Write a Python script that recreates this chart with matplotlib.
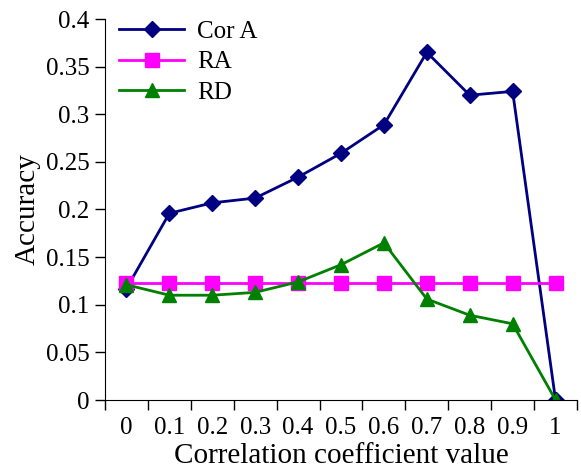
import matplotlib
matplotlib.use("Agg")
import matplotlib.pyplot as plt
import numpy as np

categories = ["0", "0.1", "0.2", "0.3", "0.4", "0.5", "0.6", "0.7", "0.8", "0.9", "1"]
cor_a = [0.117, 0.196, 0.207, 0.212, 0.234, 0.259, 0.289, 0.365, 0.320, 0.324, 0.0]
ra = [0.123] * 11
rd = [0.121, 0.110, 0.110, 0.113, 0.124, 0.142, 0.165, 0.106, 0.089, 0.080, 0.0]

plt.rcParams['font.family'] = ['Liberation Serif', 'DejaVu Serif']

fig = plt.figure(figsize=(5.81, 4.73), dpi=100)
ax = fig.add_axes([105 / 581, 73 / 473, 472 / 581, 381 / 473])

x = np.arange(len(categories))
ax.plot(x, cor_a, '-', color="#000080", marker='D', markersize=8.5, linewidth=2.0, label='Cor A')
ax.plot(x, ra, '-', color="#FF00FF", marker='s', markersize=9.5, linewidth=2.0, label='RA')
ax.plot(x, rd, '-', color="#008000", marker='^', markersize=10.5, linewidth=2.0, label='RD')

ax.set_xlim(-0.5, len(categories) - 0.5)
ax.set_ylim(0, 0.4)
ax.set_yticks(np.arange(0, 0.41, 0.05))
ax.set_yticklabels(["0", "0.05", "0.1", "0.15", "0.2", "0.25", "0.3", "0.35", "0.4"])
ax.set_xticks(x)
ax.set_xticklabels(categories)
ax.set_xticks(np.arange(-0.5, len(categories)), minor=True)
ax.tick_params(axis='x', which='major', length=0, pad=12, labelsize=18)
ax.tick_params(axis='x', which='minor', length=7, width=1, direction='out')
ax.tick_params(axis='y', length=7, width=1, direction='out', labelsize=18, pad=4)

ax.spines['top'].set_visible(False)
ax.spines['right'].set_visible(False)

ax.set_xlabel("Correlation coefficient value", fontsize=21)
ax.set_ylabel("Accuracy", fontsize=21)
ax.xaxis.set_label_coords(0.5, -43 / 381, transform=ax.transAxes)
ax.yaxis.set_label_coords(-64 / 472, 0.5, transform=ax.transAxes)

ax.legend(loc='upper left', frameon=False, fontsize=18, handlelength=2.6,
          handletextpad=0.5, borderaxespad=0.1, labelspacing=0.33,
          bbox_to_anchor=(0.004, 1.03))

fig.savefig("out.png", dpi=100)
